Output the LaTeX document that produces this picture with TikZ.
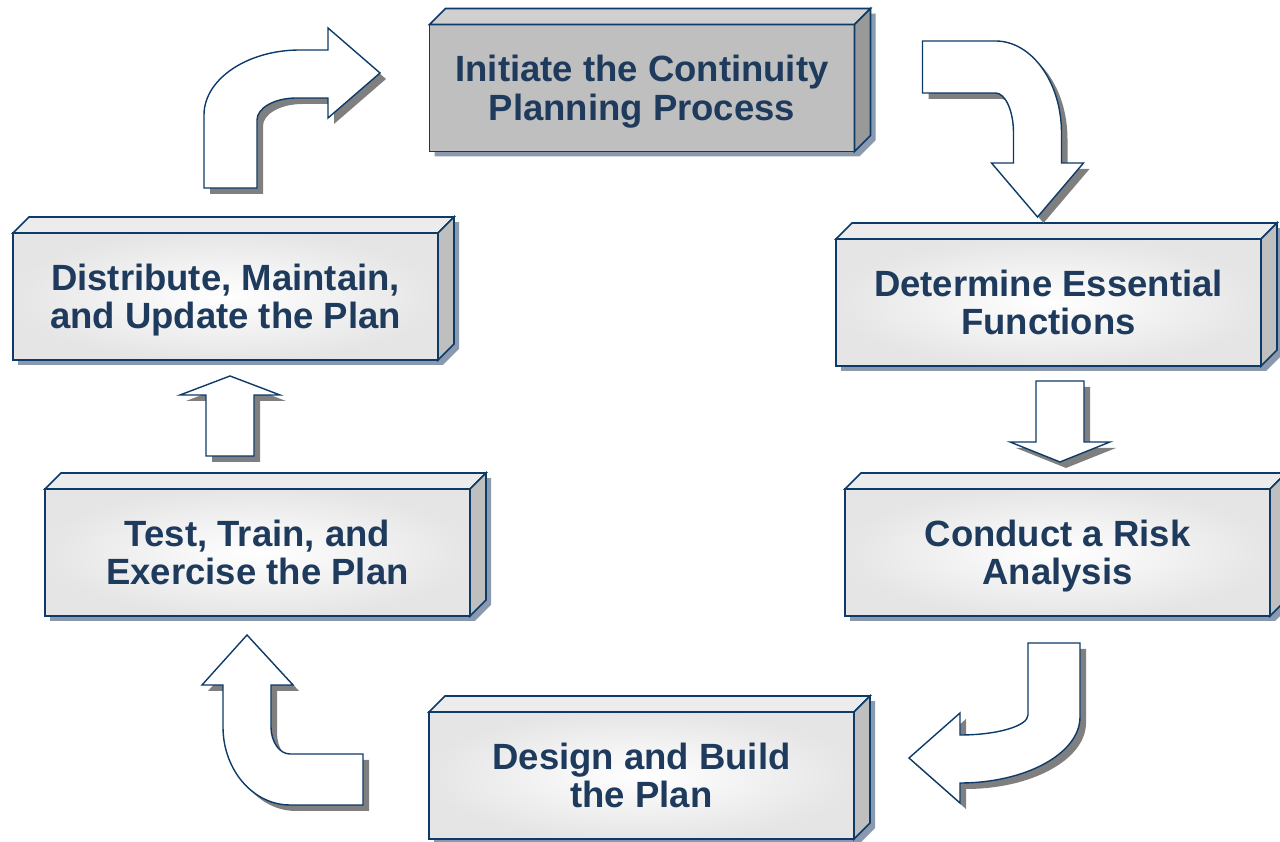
\documentclass[tikz,border=0pt]{standalone}
\usepackage{fontspec}
\setmainfont{Liberation Sans}
\usetikzlibrary{calc}
\usetikzlibrary{backgrounds}
\usetikzlibrary{shadows}
\definecolor{rimblue}{HTML}{0D3B69}
\definecolor{inkblue}{HTML}{1E3A5C}
\definecolor{boxshade}{HTML}{8A99AD}
\definecolor{arrowshade}{HTML}{7F7F7F}
\tikzset{
	x=1pt, y=1pt,
	phase/.style={
		rectangle,
		draw=rimblue, line width=1.6pt,
		inner color=white, outer color=gray!20,
		minimum width=425pt,
		minimum height=127pt,
		outer sep=0pt,
		align=center,
		text depth=0pt,
		text=inkblue,
		font=\bfseries\fontsize{36.5}{38.5}\selectfont},
	startphase/.style={phase, inner color=gray!50, outer color=gray!50},
	face/.style={draw=rimblue, line width=1.6pt, line join=miter},
	bigarrow/.style={
		draw=rimblue, line width=1.4pt, fill=white,
		drop shadow={shadow xshift=6pt, shadow yshift=-6pt, fill=arrowshade, opacity=1}},
}
% top and side of a phase box, plus its shadow
\newcommand{\boxfaces}[3]{
	\draw[face, fill=#2] (#1.north west) -- ++(16,16) -- ($(#1.north east)+(16,16)$) -- (#1.north east) -- cycle;
	\draw[face, fill=#3] (#1.north east) -- ++(16,16) -- ($(#1.south east)+(16,16)$) -- (#1.south east) -- cycle;
	\begin{scope}[on background layer]
		\fill[boxshade] ($(#1.south west)+(5,-5)$) -- ($(#1.north west)+(5,-5)$) -- ($(#1.north east)+(21,11)$)
			-- ($(#1.south east)+(21,11)$) -- ($(#1.south east)+(5,-5)$) -- cycle;
	\end{scope}
}
\begin{document}
\begin{tikzpicture}
	\useasboundingbox (0,0) rectangle (1280,842);
	\node[startphase] (init) at (642,754) {Initiate the Continuity\\Planning Process};
	\node[phase] (determ) at (1048.5,539.5) {Determine Essential\\Functions};
	\node[phase] (risk) at (1057.5,289.5) {Conduct a Risk\\Analysis};
	\node[phase] (design) at (641.5,66.5) {Design and Build\\the Plan};
	\node[phase] (test) at (257.5,289.5) {Test, Train, and\\Exercise the Plan};
	\node[phase] (dist) at (225.5,545.5) {Distribute, Maintain,\\and Update the Plan};
	\boxfaces{init}{gray!37}{gray!80}
	\boxfaces{determ}{gray!15}{gray!50}
	\boxfaces{risk}{gray!15}{gray!50}
	\boxfaces{design}{gray!15}{gray!50}
	\boxfaces{test}{gray!15}{gray!50}
	\boxfaces{dist}{gray!15}{gray!50}

	% block arrows round the cycle
	\coordinate (a1) at ($(dist.north)+(5,45)$);
	\draw[bigarrow, shift={(a1)}] (-26.5,0) -- (26.5,0) -- (26.5,68)
		.. controls (26.5,80) and (44,90) .. (66,90) -- (97.5,90) -- (97.5,70)
		-- (149.5,115) -- (97.5,160) -- (97.5,138) -- (69.5,138)
		.. controls (16.7,138) and (-26.5,108.8) .. (-26.5,73) -- cycle;
	\coordinate (a2) at ($(init.east)+(68,21)$);
	\draw[bigarrow, shift={(a2)}] (0,26) -- (73,26)
		.. controls (109.3,26) and (139,-15.4) .. (139,-66) -- (139,-96) -- (161,-96)
		-- (115,-150) -- (69,-96) -- (91,-96) -- (91,-66)
		.. controls (91,-44) and (82.9,-26) .. (73,-26) -- (0,-26) -- cycle;
	\coordinate (a3) at ($(determ.south)+(11.5,-15)$);
	\draw[bigarrow, shift={(a3)}] (-24,0) -- (24,0) -- (24,-61) -- (50,-61) -- (0,-81)
		-- (-50,-61) -- (-24,-61) -- cycle;
	\coordinate (a4) at ($(risk.south)+(-3.5,-27)$);
	\draw[bigarrow, shift={(a4)}] (-26,0) -- (26,0) -- (26,-74)
		.. controls (26,-110.3) and (-28,-140) .. (-94,-140) -- (-94,-160)
		-- (-145,-115) -- (-94,-70) -- (-94,-92)
		.. controls (-56.6,-92) and (-26,-83) .. (-26,-72) -- cycle;
	\coordinate (a5) at ($(design.west)+(-66,-4)$);
	\draw[bigarrow, shift={(a5)}] (0,25.5) -- (-73,25.5)
		.. controls (-83.5,25.5) and (-92,37.6) .. (-92,52.5) -- (-92,94.5) -- (-70,94.5)
		-- (-116,144.5) -- (-161,94.5) -- (-140,94.5) -- (-140,52.5)
		.. controls (-140,9.6) and (-109.9,-25.5) .. (-73,-25.5) -- (0,-25.5) -- cycle;
	\coordinate (a6) at ($(test.north)+(-27.5,33)$);
	\draw[bigarrow, shift={(a6)}] (-24,0) -- (24,0) -- (24,61) -- (50,61) -- (0,80)
		-- (-50,61) -- (-24,61) -- cycle;
\end{tikzpicture}
\end{document}
